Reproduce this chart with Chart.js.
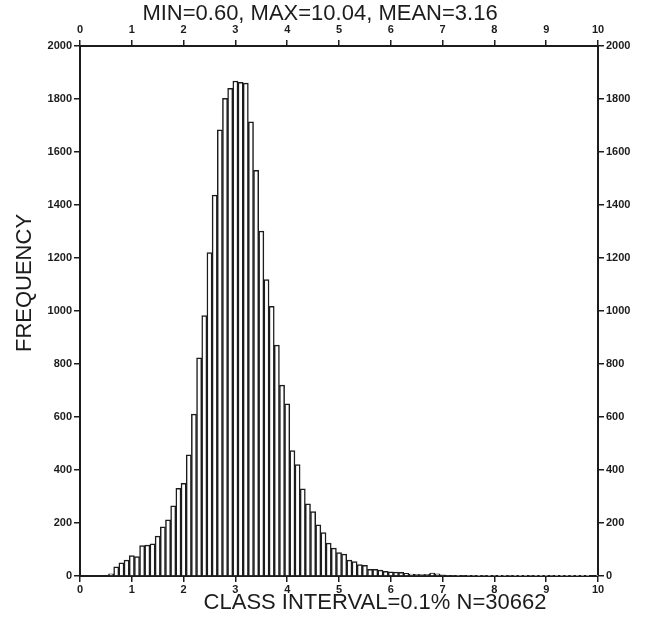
<!DOCTYPE html>
<html>
<head>
<meta charset="utf-8">
<script src="https://cdn.jsdelivr.net/npm/chart.js@4.4.1/dist/chart.umd.min.js"></script>
<style>
  html, body { margin: 0; padding: 0; background: #fff; }
  canvas { display: block; }
</style>
</head>
<body>
<canvas id="hist" width="656" height="618"></canvas>
<script>
// class centres (0.1 wide classes) and counts
const binCenters = [
  0.6, 0.7, 0.8, 0.9, 1.0, 1.1, 1.2, 1.3, 1.4, 1.5,
  1.6, 1.7, 1.8, 1.9, 2.0, 2.1, 2.2, 2.3, 2.4, 2.5,
  2.6, 2.7, 2.8, 2.9, 3.0, 3.1, 3.2, 3.3, 3.4, 3.5,
  3.6, 3.7, 3.8, 3.9, 4.0, 4.1, 4.2, 4.3, 4.4, 4.5,
  4.6, 4.7, 4.8, 4.9, 5.0, 5.1, 5.2, 5.3, 5.4, 5.5,
  5.6, 5.7, 5.8, 5.9, 6.0, 6.1, 6.2, 6.3, 6.4, 6.5,
  6.6, 6.7, 6.8, 6.9, 7.0, 7.1, 7.2, 7.3, 7.4, 7.5,
  7.6, 7.7, 7.8, 7.9, 8.0, 8.1, 8.2, 8.3, 8.4, 8.5,
  8.6, 8.7, 8.8, 8.9, 9.0, 9.1, 9.2, 9.3, 9.4, 9.5,
  9.6, 9.7, 9.8, 9.9, 10.0
];
const frequencies = [
  8, 35, 50, 60, 77, 73, 115, 117, 121, 151,
  186, 212, 265, 331, 350, 457, 611, 823, 983, 1220,
  1437, 1684, 1803, 1840, 1868, 1863, 1860, 1714, 1531, 1302,
  1119, 1018, 871, 720, 650, 473, 420, 329, 272, 243,
  193, 164, 124, 105, 88, 83, 60, 54, 43, 40,
  25, 25, 22, 18, 16, 15, 14, 10, 7, 6,
  5, 6, 11, 8, 4, 3, 3, 2, 3, 2,
  2, 1, 2, 1, 2, 1, 1, 2, 1, 1,
  1, 2, 1, 1, 1, 2, 1, 1, 1, 1,
  1, 1, 1, 0, 1
];
const xTicks = [0, 1, 2, 3, 4, 5, 6, 7, 8, 9, 10];
const yTicks = [0, 200, 400, 600, 800, 1000, 1200, 1400, 1600, 1800, 2000];

const titleText = 'MIN=0.60, MAX=10.04, MEAN=3.16';
const xTitleText = 'CLASS INTERVAL=0.1% N=30662';
const yTitleText = 'FREQUENCY';

const ink = '#1c1c1c';
const fontFamily = '"Liberation Sans", Arial, Helvetica, sans-serif';
const tickFont = { family: fontFamily, size: 11, weight: 'bold' };

// shared pieces for the four framing axes
const axisGrid = { display: true, drawOnChartArea: false, drawTicks: true, tickLength: 6, color: ink, lineWidth: 1.5, offset: false };
const axisBorder = { display: true, color: ink, width: 2 };
const plainLabel = v => String(v);

const xAxis = (position, size, pad) => ({
  type: 'linear',
  position,
  min: 0,
  max: 10,
  offset: false,
  afterBuildTicks: s => { s.ticks = xTicks.map(v => ({ value: v })); },
  ticks: { autoSkip: false, maxRotation: 0, color: ink, font: tickFont, padding: pad, callback: plainLabel },
  grid: axisGrid,
  border: axisBorder,
  afterFit: s => { s.height = size; }
});

const yAxis = (position, size) => ({
  type: 'linear',
  position,
  min: 0,
  max: 2000,
  afterBuildTicks: s => { s.ticks = yTicks.map(v => ({ value: v })); },
  ticks: { autoSkip: false, color: ink, font: tickFont, padding: 2, callback: plainLabel },
  grid: axisGrid,
  border: axisBorder,
  afterFit: s => { s.width = size; }
});

// titles are drawn by hand so their positions match the scan
const textPlugin = {
  id: 'texts',
  afterDraw(chart) {
    const ctx = chart.ctx;
    ctx.save();
    ctx.fillStyle = ink;
    ctx.textAlign = 'center';
    ctx.textBaseline = 'middle';
    ctx.font = '22px ' + fontFamily;
    ctx.fillText(titleText, 320, 14);
    ctx.fillText(xTitleText, 375, 603);
    ctx.translate(25, 283);
    ctx.rotate(-Math.PI / 2);
    ctx.fillText(yTitleText, 0, 0);
    ctx.restore();
  }
};

new Chart(document.getElementById('hist'), {
  type: 'bar',
  data: {
    datasets: [{
      data: binCenters.map((x, i) => ({ x, y: frequencies[i] })),
      backgroundColor: '#ffffff',
      borderColor: ink,
      borderWidth: 1.5,
      barPercentage: 1,
      categoryPercentage: 1,
      xAxisID: 'x',
      yAxisID: 'y'
    }]
  },
  options: {
    responsive: false,
    animation: false,
    layout: { padding: 0 },
    plugins: {
      legend: { display: false },
      tooltip: { enabled: false }
    },
    scales: {
      x: xAxis('bottom', 42, 1),
      x2: xAxis('top', 46, 3),
      y: yAxis('left', 80),
      y2: yAxis('right', 58)
    }
  },
  plugins: [textPlugin]
});
</script>
</body>
</html>
